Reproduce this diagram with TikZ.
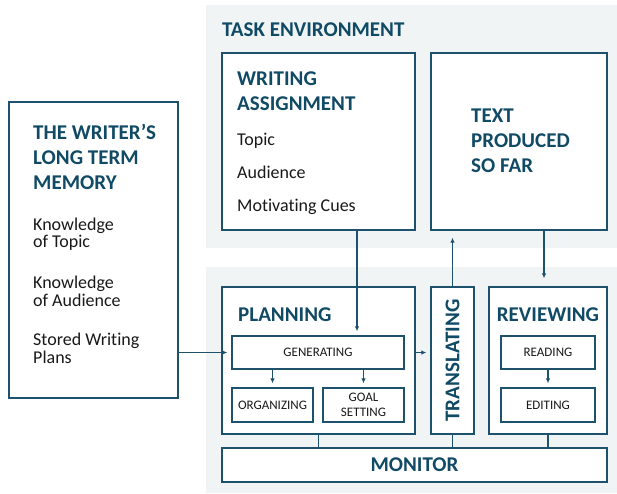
\documentclass[tikz,border=0pt]{standalone}
\usepackage{fontspec}
\setmainfont{Carlito}[Ligatures=NoCommon]
\usetikzlibrary{positioning, arrows.meta}

\definecolor{navy}{RGB}{16,74,101}
\definecolor{edge}{RGB}{30,82,108}
\definecolor{panel}{RGB}{240,244,245}
\definecolor{ink}{RGB}{25,25,25}

\tikzset{
  box/.style={draw=edge, line width=1.3pt, fill=white, inner sep=0pt},
  head/.style={text=navy, font=\fontsize{21}{25}\selectfont\bfseries, align=left, inner sep=0pt},
  body/.style={text=ink, font=\fontsize{18}{17.5}\selectfont, align=left, anchor=west, inner sep=0pt},
  small/.style={text=ink, font=\fontsize{13}{15.5}\selectfont, align=center},
  link/.style={draw=edge, line width=1.2pt, -{Latex[length=5pt,width=4.5pt]}, shorten >=4pt},
  tie/.style={draw=edge, line width=1.2pt}
}

\begin{document}
\begin{tikzpicture}[x=1pt, y=-1pt]

  % Frame
  \fill[white] (0,0) rectangle (617,493);
  \useasboundingbox (0,0) rectangle (617,493);

  % Panels
  \fill[panel] (206,5) rectangle (617,248);
  \fill[panel] (206,267) rectangle (617,493);
  \node[head, anchor=west] (task) at (222,30) {TASK ENVIRONMENT};

  % Task environment boxes
  \node[box, minimum width=193pt, minimum height=177pt] (wa) at (318.5,141.5) {};
  \node[box, minimum width=176pt, minimum height=177pt] (tp) at (519,141.5) {};
  \node[head, anchor=west] (wahead) at (237,91.5) {WRITING\\ASSIGNMENT};
  \node[body] (topic) at (237,140.5) {Topic};
  \node[body] (aud) at (237,172) {Audience};
  \node[body] (cues) at (237,207) {Motivating Cues};
  \node[head, anchor=west] (tphead) at (471,140.5) {TEXT\\PRODUCED\\SO FAR};

  % Long term memory
  \node[box, minimum width=169pt, minimum height=296pt] (ltm) at (93.5,250) {};
  \node[head, anchor=west] (ltmhead) at (33,157) {THE WRITER’S\\LONG TERM\\MEMORY};
  \node[body] (ktopic) at (33,234) {Knowledge\\of Topic};
  \node[body] (kaud) at (33,291.5) {Knowledge\\of Audience};
  \node[body] (plans) at (33,348.5) {Stored Writing\\Plans};

  % Writing processes
  \node[box, minimum width=193pt, minimum height=147pt] (plan) at (318.5,360.5) {};
  \node[box, minimum width=43pt, minimum height=147pt] (trans) at (452.5,360.5) {};
  \node[box, minimum width=118pt, minimum height=147pt] (rev) at (548,360.5) {};
  \node[head, anchor=west] (planhead) at (238,315) {PLANNING};
  \node[head] (revhead) at (548,315) {REVIEWING};
  \node[head, rotate=90] (transhead) at (452.5,360.5) {TRANSLATING};

  \node[box, small, minimum width=172pt, minimum height=33pt] (gen) at (318,352.5) {GENERATING};
  \node[box, small, minimum width=81pt, minimum height=34pt] (org) at (272.5,405) {ORGANIZING};
  \node[box, small, minimum width=81pt, minimum height=34pt] (goal) at (363.5,405) {GOAL\\SETTING};
  \node[box, small, minimum width=94pt, minimum height=33pt] (read) at (548,352.5) {READING};
  \node[box, small, minimum width=94pt, minimum height=34pt] (edit) at (548,405) {EDITING};

  % Monitor
  \node[box, minimum width=385pt, minimum height=34pt] (mon) at (414.5,465) {};
  \node[head] (monhead) at (mon) {MONITOR};

  % Arrows
  \draw[link] ([xshift=38.5pt]wa.south) -- ([xshift=39pt]gen.north);
  \draw[link, shorten >=7pt] (trans.north) -- (trans.north |- tp.south);
  \draw[link, shorten >=8pt] ([xshift=25pt]tp.south) -- ([xshift=25pt]tp.south |- rev.north);
  \draw[link] (ltm.east |- gen.west) -- (gen.west);
  \draw[link] (plan.east |- gen.east) -- (trans.west |- gen.east);
  \draw[link] (gen.south -| org.north) -- (org.north);
  \draw[link] (gen.south -| goal.north) -- (goal.north);
  \draw[link] (read.south) -- (edit.north);

  % Ties to monitor
  \draw[tie] (plan.south) -- (plan.south |- mon.north);
  \draw[tie] (trans.south) -- (trans.south |- mon.north);
  \draw[tie] (rev.south) -- (rev.south |- mon.north);

\end{tikzpicture}
\end{document}
